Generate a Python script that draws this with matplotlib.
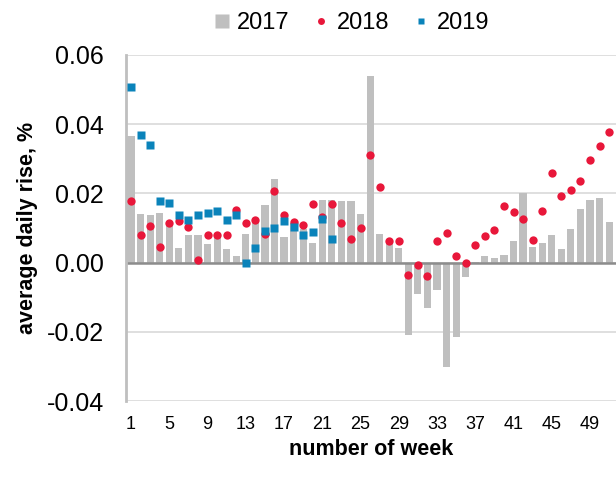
import numpy as np
import matplotlib
matplotlib.use("Agg")
import matplotlib.pyplot as plt
from matplotlib.lines import Line2D

plt.rcParams['font.family'] = ['Liberation Sans', 'DejaVu Sans']

# weekly averages
weeks_2017 = list(range(1, 52))
rise_2017 = [0.0367, 0.0139, 0.0137, 0.0142, 0.0116, 0.0043, 0.0079, 0.0079, 0.0053, 0.0075,
             0.0040, 0.0020, 0.0082, 0.0118, 0.0167, 0.0241, 0.0073, 0.0113, 0.0098, 0.0056,
             0.0181, 0.0180, 0.0179, 0.0179, 0.0140, 0.0538, 0.0083, 0.0059, 0.0042, -0.0210,
             -0.0092, -0.0131, -0.0080, -0.0301, -0.0215, -0.0041, 0.0003, 0.0019, 0.0012, 0.0023,
             0.0063, 0.0202, 0.0045, 0.0056, 0.0081, 0.0039, 0.0096, 0.0154, 0.0182, 0.0188,
             0.0116]

weeks_2018 = list(range(1, 52))
rise_2018 = [0.0179, 0.0079, 0.0107, 0.0045, 0.0113, 0.0121, 0.0102, 0.0008, 0.0079, 0.0079,
             0.0079, 0.0153, 0.0113, 0.0122, 0.0082, 0.0207, 0.0138, 0.0116, 0.0109, 0.0168,
             0.0132, 0.0168, 0.0113, 0.0068, 0.0099, 0.0312, 0.0218, 0.0061, 0.0063, -0.0036,
             -0.0006, -0.0039, 0.0063, 0.0085, 0.0018, 0.0000, 0.0052, 0.0077, 0.0094, 0.0163,
             0.0147, 0.0127, 0.0066, 0.0150, 0.0259, 0.0191, 0.0209, 0.0235, 0.0297, 0.0336,
             0.0376]

weeks_2019 = list(range(1, 23))
rise_2019 = [0.0507, 0.0368, 0.0339, 0.0178, 0.0172, 0.0137, 0.0123, 0.0137, 0.0143, 0.0149,
             0.0123, 0.0137, 0.0000, 0.0042, 0.0090, 0.0100, 0.0120, 0.0103, 0.0080, 0.0088,
             0.0126, 0.0068]

week_ticks = list(range(1, 52, 4))
y_ticks = [-0.04, -0.02, 0.00, 0.02, 0.04, 0.06]

c17, c18, c19 = '#BFBFBF', '#E8173A', '#0A83BA'

fig = plt.figure(figsize=(6.16, 4.82), dpi=100)
ax = fig.add_axes([0.205, 0.168, 0.795, 0.718])

ax.bar(weeks_2017, rise_2017, width=0.75, color=c17, zorder=2)
ax.plot(weeks_2018, rise_2018, 'o', color=c18, ms=6, mec='none', zorder=3)
ax.plot(weeks_2019, rise_2019, 's', color=c19, ms=6, mec='none', zorder=4)

ax.axhline(0, color='#8C8C8C', lw=1.8, zorder=2.5)

ax.set_xlim(0.5, 51.72)
ax.set_ylim(-0.04, 0.06)
ax.set_yticks(y_ticks)
ax.set_yticklabels(['%.2f' % v for v in y_ticks], fontsize=18)
ax.set_xticks(week_ticks)
ax.set_xticklabels([str(w) for w in week_ticks], fontsize=13)
ax.tick_params(axis='both', length=0)
ax.tick_params(axis='y', pad=16)
ax.tick_params(axis='x', pad=11)

ax.grid(axis='y', color='#D9D9D9', lw=1.2, zorder=0)
ax.set_axisbelow(True)
for s in ['top', 'right', 'bottom']:
    ax.spines[s].set_visible(False)
ax.spines['left'].set_color('#BFBFBF')
ax.spines['left'].set_linewidth(2)

ax.set_xlabel('number of week', fontsize=15.5, fontweight='bold', labelpad=4)
ax.set_ylabel('average daily rise, %', fontsize=15.5, fontweight='bold', labelpad=6)

handles = [Line2D([], [], ls='none', marker='s', ms=10, color=c17, mec='none'),
           Line2D([], [], ls='none', marker='o', ms=5, color=c18, mec='none'),
           Line2D([], [], ls='none', marker='s', ms=5, color=c19, mec='none')]
fig.legend(handles, ['2017', '2018', '2019'], loc='center', bbox_to_anchor=(0.57, 0.952),
           ncol=3, frameon=False, fontsize=17, handlelength=0.7, handletextpad=0.3,
           columnspacing=1.0)

fig.savefig('out.png', dpi=100)
